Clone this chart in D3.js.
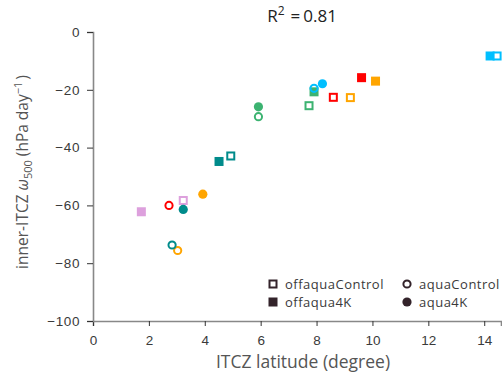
<!DOCTYPE html>
<html>
<head>
<meta charset="utf-8">
<script src="https://cdn.jsdelivr.net/npm/d3@7"></script>
<style>
  html, body { margin: 0; padding: 0; background: #fff; }
  svg { display: block; font-family: "Open Sans", Lato, sans-serif; }
</style>
</head>
<body>
<svg id="chart" width="502" height="376"></svg>
<script>
// Model colours (one per model run)
const modelColors = ["#00bfff", "#ff0000", "#ffa500", "#3cb371", "#008b8b", "#dda0dd"];

// ITCZ latitude (degree) and inner-ITCZ omega500 (hPa/day) per experiment; null = not shown
const offaquaControlLat = [14.46, 8.60, 9.21, 7.73, 4.93, 3.23];
const offaquaControlOmega = [-8.3, -22.6, -22.7, -25.5, -42.9, -58.3];
const offaqua4KLat = [14.21, 9.61, 10.11, 7.91, 4.51, 1.73];
const offaqua4KOmega = [-8.3, -15.8, -17.0, -20.7, -44.8, -62.2];
const aquaControlLat = [7.91, 2.72, 3.03, 5.92, 2.83, null];
const aquaControlOmega = [-19.5, -60.0, -75.6, -29.3, -73.7, null];
const aqua4KLat = [8.21, null, 3.93, 5.92, 3.23, null];
const aqua4KOmega = [-17.9, null, -56.1, -25.9, -61.4, null];

const xTicks = [0, 2, 4, 6, 8, 10, 12, 14];
const yTicks = [0, -20, -40, -60, -80, -100];
const rSquared = "0.81";

const svg = d3.select("#chart");
const x = d3.scaleLinear().domain([0, 14.6]).range([93, 501]);
const y = d3.scaleLinear().domain([-100, 0]).range([321, 32]);

const axisColor = "#888";
const textColor = "#3a3a3a";

// Axes
const gx = svg.append("g").attr("transform", "translate(0,321)")
  .call(d3.axisBottom(x).tickValues(xTicks).tickSizeOuter(0).tickSize(5).tickPadding(9)
    .tickFormat(d3.format("d")));
const gy = svg.append("g").attr("transform", "translate(93,0)")
  .call(d3.axisLeft(y).tickValues(yTicks).tickSizeOuter(0).tickSize(6).tickPadding(7)
    .tickFormat(d => d < 0 ? "\u2212" + Math.abs(d) : d));
[gx, gy].forEach(g => {
  g.select(".domain").attr("stroke", axisColor).attr("stroke-width", 1.6);
  g.selectAll(".tick line").attr("stroke", "#333").attr("stroke-width", 1);
  g.selectAll(".tick text").attr("fill", textColor).style("font-size", "13.5px");
});
gy.selectAll(".tick text").style("letter-spacing", "0.6px");

// Axis labels
svg.append("text").attr("x", 303).attr("y", 368).attr("text-anchor", "middle")
  .attr("fill", "#555").style("font-size", "17.5px").text("ITCZ latitude (degree)");

const yl = svg.append("text").attr("transform", "translate(28,172) rotate(-90)")
  .attr("text-anchor", "middle").attr("fill", "#555").style("font-size", "15.5px");
yl.append("tspan").text("inner-ITCZ ");
yl.append("tspan").style("font-style", "italic").text("\u03c9");
yl.append("tspan").attr("dy", 4).style("font-size", "11px").text("500");
yl.append("tspan").attr("dy", -4).attr("dx", 4).text("(hPa day");
yl.append("tspan").attr("dy", -6).style("font-size", "11px").text("\u22121");
yl.append("tspan").attr("dy", 6).attr("dx", 2).text(")");

// Title: R squared of the fit
const tt = svg.append("text").attr("x", 302).attr("y", 22).attr("text-anchor", "middle")
  .attr("fill", "#222").style("font-size", "17px");
tt.append("tspan").text("R");
tt.append("tspan").attr("dy", -7).style("font-size", "12px").text("2");
tt.append("tspan").attr("dy", 7).attr("dx", 6).text("=");
tt.append("tspan").attr("dx", 3).text(rSquared);

// Build point lists per experiment
function pts(lat, om) {
  return lat.map((v, i) => ({ lat: v, om: om[i], color: modelColors[i] }))
    .filter(d => d.lat !== null && d.om !== null);
}
const fsq = pts(offaqua4KLat, offaqua4KOmega);
const osq = pts(offaquaControlLat, offaquaControlOmega);
const ocir = pts(aquaControlLat, aquaControlOmega);
const fcir = pts(aqua4KLat, aqua4KOmega);

const marks = svg.append("g");
marks.selectAll(".fsq").data(fsq).join("rect")
  .attr("x", d => x(d.lat) - 4.5).attr("y", d => y(d.om) - 4.5)
  .attr("width", 9).attr("height", 9).attr("fill", d => d.color);
marks.selectAll(".osq").data(osq).join("rect")
  .attr("x", d => x(d.lat) - 3.5).attr("y", d => y(d.om) - 3.5)
  .attr("width", 7).attr("height", 7).attr("fill", "#fff")
  .attr("stroke", d => d.color).attr("stroke-width", 2);
marks.selectAll(".ocir").data(ocir).join("circle")
  .attr("cx", d => x(d.lat)).attr("cy", d => y(d.om)).attr("r", 3.6)
  .attr("fill", "none").attr("stroke", d => d.color).attr("stroke-width", 2);
marks.selectAll(".fcir").data(fcir).join("circle")
  .attr("cx", d => x(d.lat)).attr("cy", d => y(d.om)).attr("r", 4.6)
  .attr("fill", d => d.color);

// Legend
const legendColor = "#33232a";
const legendItems = [
  { name: "offaquaControl", shape: "osq", lx: 273, ly: 284 },
  { name: "aquaControl", shape: "ocir", lx: 407, ly: 284 },
  { name: "offaqua4K", shape: "fsq", lx: 273, ly: 302 },
  { name: "aqua4K", shape: "fcir", lx: 407, ly: 302 }
];
const lg = svg.append("g");
legendItems.forEach(it => {
  if (it.shape === "osq") lg.append("rect").attr("x", it.lx - 3.5).attr("y", it.ly - 3.5)
    .attr("width", 7).attr("height", 7).attr("fill", "#fff").attr("stroke", legendColor).attr("stroke-width", 2);
  if (it.shape === "fsq") lg.append("rect").attr("x", it.lx - 4.5).attr("y", it.ly - 4.5)
    .attr("width", 9).attr("height", 9).attr("fill", legendColor);
  if (it.shape === "ocir") lg.append("circle").attr("cx", it.lx).attr("cy", it.ly).attr("r", 3.6)
    .attr("fill", "none").attr("stroke", legendColor).attr("stroke-width", 2);
  if (it.shape === "fcir") lg.append("circle").attr("cx", it.lx).attr("cy", it.ly).attr("r", 4.6)
    .attr("fill", legendColor);
  lg.append("text").attr("x", it.lx + 12).attr("y", it.ly + 5).attr("fill", textColor)
    .style("font-size", "13px").style("letter-spacing", "0.5px").text(it.name);
});
</script>
</body>
</html>
